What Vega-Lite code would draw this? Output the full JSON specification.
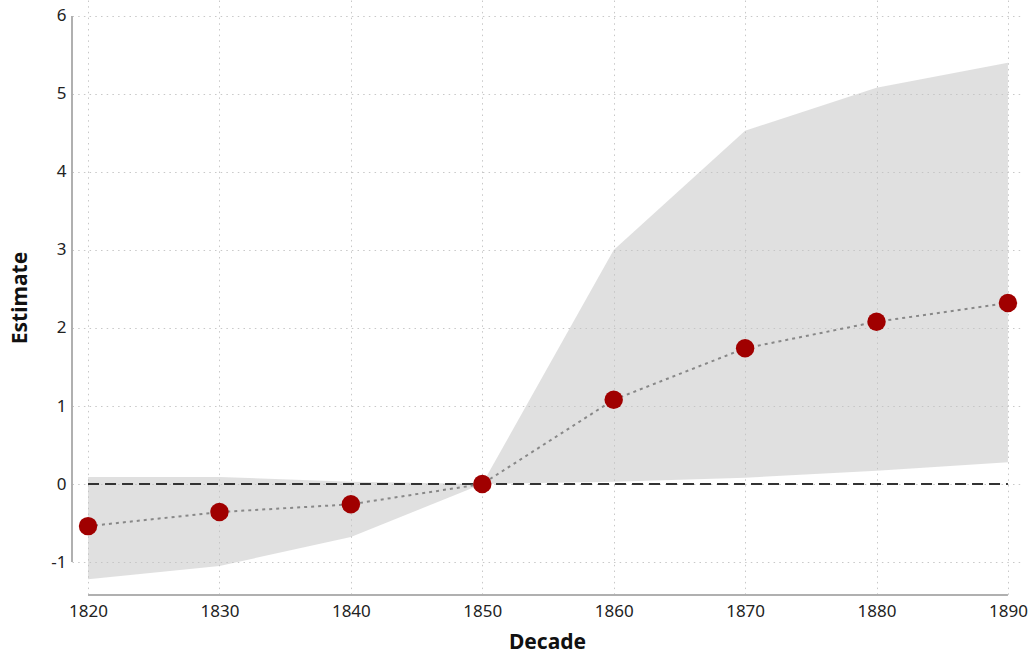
{
  "$schema": "https://vega.github.io/schema/vega-lite/v6.json",
  "width": 950,
  "height": 595,
  "autosize": "none",
  "padding": {"left": 72, "top": 0, "right": 10, "bottom": 61},
  "background": "white",
  "config": {
    "view": {"stroke": null},
    "font": "Noto Sans",
    "axis": {
      "domain": false,
      "ticks": false,
      "tickSize": 0,
      "grid": true,
      "gridColor": "#c8c8c8",
      "gridDash": [1.5, 4.2],
      "gridWidth": 1,
      "labelFont": "Noto Sans",
      "labelFontSize": 17,
      "labelColor": "#222222",
      "titleFont": "Noto Sans",
      "titleFontSize": 21,
      "titleFontWeight": "bold",
      "titleColor": "#111111"
    }
  },
  "datasets": {
    "est": [
      {"decade": 1820, "estimate": -0.54, "lower": -1.22, "upper": 0.09},
      {"decade": 1830, "estimate": -0.36, "lower": -1.05, "upper": 0.09},
      {"decade": 1840, "estimate": -0.26, "lower": -0.68, "upper": 0.03},
      {"decade": 1850, "estimate": 0.0, "lower": 0.0, "upper": 0.0},
      {"decade": 1860, "estimate": 1.08, "lower": 0.03, "upper": 3.0},
      {"decade": 1870, "estimate": 1.74, "lower": 0.08, "upper": 4.53},
      {"decade": 1880, "estimate": 2.08, "lower": 0.17, "upper": 5.08},
      {"decade": 1890, "estimate": 2.32, "lower": 0.28, "upper": 5.4}
    ],
    "axislines": [
      {"x": 1818.78, "x2": 1818.78, "y": -1, "y2": 6},
      {"x": 1820, "x2": 1890, "y": -1.423, "y2": -1.423}
    ],
    "zero": [
      {"x": 1820, "x2": 1890, "y": 0}
    ]
  },
  "layer": [
    {
      "data": {"name": "est"},
      "mark": {"type": "area", "color": "#c2c2c2", "opacity": 0.5},
      "encoding": {
        "x": {
          "field": "decade", "type": "quantitative",
          "scale": {"domain": [1818.78, 1891.07], "nice": false, "zero": false},
          "axis": {"values": [1820, 1830, 1840, 1850, 1860, 1870, 1880, 1890], "format": "d", "title": "Decade", "labelPadding": 8, "titlePadding": 12}
        },
        "y": {
          "field": "lower", "type": "quantitative",
          "scale": {"domain": [-1.423, 6.205], "nice": false, "zero": false},
          "axis": {"values": [-1, 0, 1, 2, 3, 4, 5, 6], "labelExpr": "'' + datum.value", "title": "Estimate", "labelPadding": 6, "titlePadding": 20}
        },
        "y2": {"field": "upper"}
      }
    },
    {
      "data": {"name": "axislines"},
      "mark": {"type": "rule", "color": "#b0b0b0", "strokeWidth": 2},
      "encoding": {
        "x": {"field": "x", "type": "quantitative"},
        "x2": {"field": "x2"},
        "y": {"field": "y", "type": "quantitative"},
        "y2": {"field": "y2"}
      }
    },
    {
      "data": {"name": "zero"},
      "mark": {"type": "rule", "color": "#333333", "strokeWidth": 2, "strokeDash": [11, 6]},
      "encoding": {
        "x": {"field": "x", "type": "quantitative"},
        "x2": {"field": "x2"},
        "y": {"field": "y", "type": "quantitative"}
      }
    },
    {
      "data": {"name": "est"},
      "mark": {"type": "line", "color": "#888888", "strokeWidth": 2, "strokeDash": [3, 4]},
      "encoding": {
        "x": {"field": "decade", "type": "quantitative"},
        "y": {"field": "estimate", "type": "quantitative"}
      }
    },
    {
      "data": {"name": "est"},
      "mark": {"type": "circle", "color": "#a00000", "opacity": 1, "size": 340},
      "encoding": {
        "x": {"field": "decade", "type": "quantitative"},
        "y": {"field": "estimate", "type": "quantitative"}
      }
    }
  ]
}
